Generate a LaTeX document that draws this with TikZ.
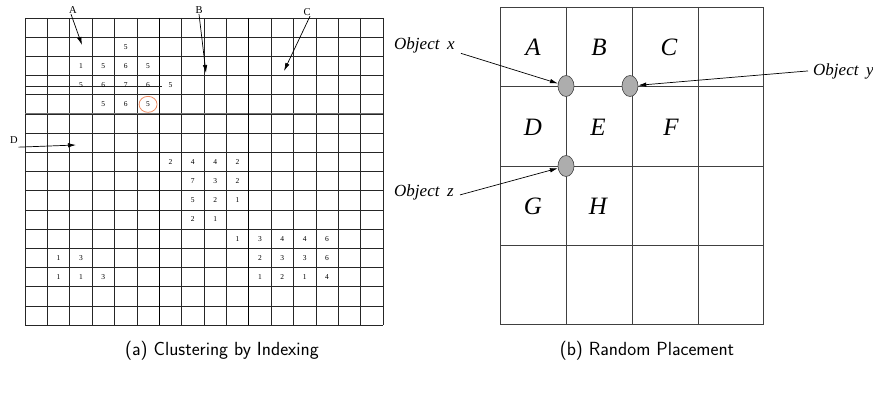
\documentclass[tikz,border=0pt]{standalone}
\usepackage{fontspec}
\setmainfont{Liberation Serif}
\usetikzlibrary{arrows.meta,shapes.geometric}
\definecolor{circ}{RGB}{236,140,100}
\tikzset{
  gridline/.style={black!85,line width=0.6pt},
  cellnum/.style={font=\fontsize{7.5}{9}\selectfont,inner sep=0pt},
  letterlab/.style={font=\fontsize{10.5}{12}\selectfont,inner sep=0.5pt},
  arr/.style={-{Latex[length=8pt,width=4.5pt]},line width=0.7pt},
  bigcell/.style={font=\fontsize{25}{30}\selectfont\itshape,inner sep=0pt},
  rgrid/.style={black!75,line width=0.8pt},
  obj/.style={ellipse,draw=black!75,fill=black!32,line width=0.6pt,minimum width=16pt,minimum height=21pt,inner sep=0pt},
  objlab/.style={font=\fontsize{17}{20}\selectfont\itshape,inner sep=1pt},
  capt/.style={font=\sffamily\fontsize{19}{22}\selectfont,inner sep=0pt}
}
\begin{document}
\begin{tikzpicture}[x=1pt,y=-1pt]
\useasboundingbox (0,0) rectangle (873,396);
% ---------- left grid ----------
\foreach \i in {0,...,16}{
  \draw[gridline] (25+22.375*\i,18) -- (25+22.375*\i,325);
  \draw[gridline] (25,18+19.1875*\i) -- (383,18+19.1875*\i);
}
\draw[black!55,line width=1.1pt] (25,113.9) -- (383,113.9);
\draw[black,line width=0.9pt] (159.25,18) -- (159.25,325);
\draw[black,line width=0.9pt] (248.75,18) -- (248.75,325);
\draw[gridline] (25,86) -- (162,86);
\foreach \c/\r/\t in {4/1/5,
  2/2/1,3/2/5,4/2/6,5/2/5,
  2/3/5,3/3/6,4/3/7,5/3/6,6/3/5,
  3/4/5,4/4/6,5/4/5,
  6/7/2,7/7/4,8/7/4,9/7/2,
  7/8/7,8/8/3,9/8/2,
  7/9/5,8/9/2,9/9/1,
  7/10/2,8/10/1,
  9/11/1,10/11/3,11/11/4,12/11/4,13/11/6,
  1/12/1,2/12/3,10/12/2,11/12/3,12/12/3,13/12/6,
  1/13/1,2/13/1,3/13/3,10/13/1,11/13/2,12/13/1,13/13/4}{
  \node[cellnum] (n-\c-\r) at (25+22.375*\c+11.19,18+19.1875*\r+9.6) {\t};
}
\node[ellipse,draw=circ,line width=0.8pt,minimum width=18pt,minimum height=16pt,inner sep=0pt] (ring) at (n-5-4) {};
% labels A-D
\node[letterlab] (la) at (73,10) {A};
\node[letterlab] (lb) at (199,10) {B};
\node[letterlab] (lc) at (307,12) {C};
\node[letterlab] (ld) at (14,140) {D};
\coordinate (ta) at (82,45);
\coordinate (tb) at (206,73);
\coordinate (tc) at (284,71);
\coordinate (td) at (76,145);
\draw[arr] ([xshift=-2pt]la.south) -- (ta);
\draw[arr] (lb.south) -- (tb);
\draw[arr] ([xshift=3pt]lc.south) -- (tc);
\draw[arr] ([yshift=-3pt]ld.south east) -- (td);
% ---------- right grid ----------
\draw[rgrid] (500,7) rectangle (763,324);
\foreach \x in {566,632,698}{\draw[rgrid] (\x,7) -- (\x,324);}
\foreach \y in {86,166,245}{\draw[rgrid] (500,\y) -- (763,\y);}
\node[bigcell] (cA) at (533,47) {A};
\node[bigcell] (cB) at (599,47) {B};
\node[bigcell] (cC) at (669,47) {C};
\node[bigcell] (cD) at (533,127) {D};
\node[bigcell] (cE) at (598,127) {E};
\node[bigcell] (cF) at (671,127) {F};
\node[bigcell] (cG) at (533,206) {G};
\node[bigcell] (cH) at (598,206) {H};
\node[obj] (ox) at (566,86) {};
\node[obj] (oy) at (630,86) {};
\node[obj] (oz) at (566,166) {};
\node[objlab,anchor=base west] (lx) at (393,50) {Object\hspace{0.45em}x};
\node[objlab,anchor=base west] (ly) at (812,75) {Object\hspace{0.45em}y};
\node[objlab,anchor=base west] (lz) at (393,196) {Object\hspace{0.45em}z};
\draw[arr] ([xshift=5pt,yshift=1.5pt]lx.south east) -- (ox);
\draw[arr] ([xshift=-4pt]ly.west) -- (oy);
\draw[arr] ([xshift=5pt,yshift=-3pt]lz.east) -- (oz);
% ---------- captions ----------
\node[capt] (capa) at (222,351) {(a) Clustering by Indexing};
\node[capt] (capb) at (647,351) {(b) Random Placement};
\end{tikzpicture}
\end{document}
